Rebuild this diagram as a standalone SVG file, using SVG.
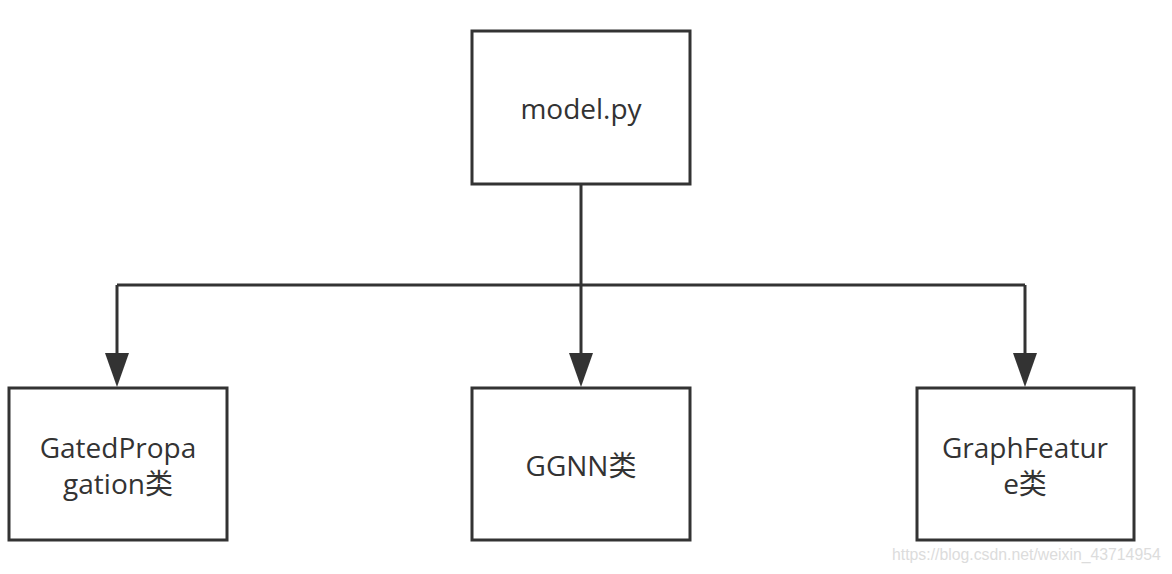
<svg xmlns="http://www.w3.org/2000/svg" width="1172" height="574" viewBox="0 0 1172 574">
<style>
.box{fill:#fff;stroke:#333;stroke-width:3}
.lbl{font-family:"Open Sans","Noto Sans","Noto Sans CJK SC",sans-serif;font-size:28px;fill:#333;text-anchor:middle}
.edge{fill:none;stroke:#333;stroke-width:3}
.wm{font-family:"Liberation Sans",Arial,sans-serif;font-size:15.8px;fill:#dcdcdc}
</style>
<rect width="1172" height="574" fill="#fff"/>
<g id="connectors">
<path class="edge" d="M581,184 V285"/>
<path class="edge" d="M117,285 H1025"/>
<path class="edge" d="M117,285 V354"/>
<path d="M105,353 L129,353 L117,387 Z" fill="#333"/>
<path class="edge" d="M581,285 V354"/>
<path d="M569,353 L593,353 L581,387 Z" fill="#333"/>
<path class="edge" d="M1025,285 V354"/>
<path d="M1013,353 L1037,353 L1025,387 Z" fill="#333"/>
</g>
<g id="model">
<rect class="box" x="472" y="31" width="218" height="153"/>
<text class="lbl" x="581" y="119">model.py</text>
</g>
<g id="gated">
<rect class="box" x="9" y="388" width="218" height="152"/>
<text class="lbl" x="118" y="458">GatedPropa</text>
<text class="lbl" x="118" y="494">gation类</text>
</g>
<g id="ggnn">
<rect class="box" x="472" y="388" width="218" height="152"/>
<text class="lbl" x="581" y="476">GGNN类</text>
</g>
<g id="graphfeature">
<rect class="box" x="917" y="388" width="217" height="152"/>
<text class="lbl" x="1025" y="458">GraphFeatur</text>
<text class="lbl" x="1025" y="494">e类</text>
</g>
<text class="wm" x="892" y="560">https://blog.csdn.net/weixin_43714954</text>
</svg>
